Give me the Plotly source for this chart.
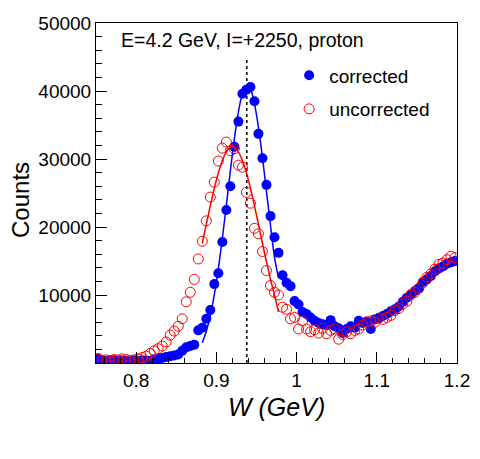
import plotly.graph_objects as go

# Bin centres (GeV)
W = [0.7525, 0.7575, 0.7625, 0.7675, 0.7725, 0.7775, 0.7825, 0.7875, 0.7925, 0.7975,
     0.8025, 0.8075, 0.8125, 0.8175, 0.8225, 0.8275, 0.8325, 0.8375, 0.8425, 0.8475,
     0.8525, 0.8575, 0.8625, 0.8675, 0.8725, 0.8775, 0.8825, 0.8875, 0.8925, 0.8975,
     0.9025, 0.9075, 0.9125, 0.9175, 0.9225, 0.9275, 0.9325, 0.9375, 0.9425, 0.9475,
     0.9525, 0.9575, 0.9625, 0.9675, 0.9725, 0.9775, 0.9825, 0.9875, 0.9925, 0.9975,
     1.0025, 1.0075, 1.0125, 1.0175, 1.0225, 1.0275, 1.0325, 1.0375, 1.0425, 1.0475,
     1.0525, 1.0575, 1.0625, 1.0675, 1.0725, 1.0775, 1.0825, 1.0875, 1.0925, 1.0975,
     1.1025, 1.1075, 1.1125, 1.1175, 1.1225, 1.1275, 1.1325, 1.1375, 1.1425, 1.1475,
     1.1525, 1.1575, 1.1625, 1.1675, 1.1725, 1.1775, 1.1825, 1.1875, 1.1925, 1.1975]

corrected = [700, 400, 300, 350, 400, 300, 350, 300, 250, 350,
             300, 400, 350, 300, 550, 600, 750, 900, 1000, 1100,
             1250, 1800, 2300, 2500, 2700, 4800, 5200, 6500, 7800, 11600,
             13200, 17800, 22500, 26000, 31800, 35500, 39600, 40200, 40600, 38500,
             33700, 30100, 26200, 21600, 18500, 16200, 12900, 11800, 11300, 9100,
             8600, 7500, 7200, 6700, 6200, 5900, 5700, 5600, 6300, 5400,
             5100, 4400, 5000, 5400, 5200, 6200, 5900, 6100, 5000, 6400,
             6600, 6900, 7200, 7600, 7900, 8300, 9000, 9600, 10100, 10600,
             11000, 11900, 12300, 12800, 13500, 13900, 14200, 14600, 14800, 15000]

uncorrected = [600, 400, 450, 350, 500, 450, 600, 500, 400, 450,
               600, 800, 1000, 1400, 1800, 2100, 2500, 3100, 4100, 4700,
               5400, 6500, 9000, 10400, 12300, 15300, 17900, 20900, 24400, 26600,
               29700, 31600, 32500, 31200, 31500, 29100, 28800, 25100, 23500, 19800,
               19000, 16400, 13600, 11400, 10400, 10000, 8200, 7900, 6500, 6700,
               5000, 6200, 5000, 4600, 4900, 4400, 5100, 4300, 4800, 5000,
               3500, 4200, 4600, 4300, 4800, 5000, 5600, 6000, 6200, 6000,
               6600, 6400, 6700, 7000, 7700, 8000, 8700, 9100, 10000, 10400,
               11000, 11800, 12600, 13100, 13800, 14500, 14700, 15200, 15700, 15500]

# Fit curves
fit_W = [0.8825, 0.8875, 0.8925, 0.8975, 0.9025, 0.9075, 0.9125, 0.9175, 0.9225, 0.9275,
         0.9325, 0.9375, 0.9425, 0.9475, 0.9525, 0.9575, 0.9625, 0.9675, 0.9725, 0.9775]
fit_corrected = [2990, 4680, 7010, 10060, 13860, 18320, 23230, 28260, 32970, 36890,
                 39600, 40770, 40260, 38140, 34650, 30200, 25250, 20250, 15580, 12500]
fit_uncorrected = [17610, 20410, 23140, 25710, 27960, 29780, 31060, 31720, 31720, 31060,
                   29780, 27960, 25710, 23140, 20410, 17610, 14890, 12320, 9990, 7500]

proton_mass = [0.938, 0.938]
mass_line_counts = [0, 45000]

x_ticks = [0.8, 0.9, 1.0, 1.1, 1.2]
x_tick_labels = ["0.8", "0.9", "1", "1.1", "1.2"]
y_ticks = [10000, 20000, 30000, 40000, 50000]
y_tick_labels = ["10000", "20000", "30000", "40000", "50000"]

FONT = "Liberation Sans, Arial, Helvetica, sans-serif"

fig = go.Figure()

fig.add_trace(go.Scatter(x=proton_mass, y=mass_line_counts, mode="lines",
                         line=dict(color="black", width=1.5, dash="dot"),
                         showlegend=False, hoverinfo="skip"))

fig.add_trace(go.Scatter(x=W, y=corrected, mode="markers", name="corrected",
                         marker=dict(color="#0000ff", size=10, symbol="circle"),
                         legendgroup="a"))
fig.add_trace(go.Scatter(x=W, y=uncorrected, mode="markers", name="uncorrected",
                         marker=dict(color="#ff0000", size=10, symbol="circle-open",
                                     line=dict(width=1)),
                         legendgroup="b"))

fig.add_trace(go.Scatter(x=fit_W, y=fit_corrected, mode="lines", line_shape="spline",
                         line=dict(color="#0000ff", width=1.5), showlegend=False))
fig.add_trace(go.Scatter(x=fit_W, y=fit_uncorrected, mode="lines", line_shape="spline",
                         line=dict(color="#ff0000", width=1.5), showlegend=False))

fig.update_layout(
    width=472, height=451,
    margin=dict(l=88, r=23, t=15, b=96),
    plot_bgcolor="white", paper_bgcolor="white",
    font=dict(family=FONT, size=19, color="black"),
    showlegend=True,
    legend=dict(x=0.535, y=0.902, xanchor="left", yanchor="top",
                bgcolor="rgba(0,0,0,0)", font=dict(size=19), tracegroupgap=6,
                itemsizing="trace"),
    xaxis=dict(range=[0.75, 1.2], tickvals=x_ticks, ticktext=x_tick_labels,
               ticks="inside", ticklen=11, tickwidth=1, tickcolor="black",
               showline=True, linecolor="black", linewidth=1, mirror=True,
               showgrid=False, zeroline=False, automargin=False,
               minor=dict(dtick=0.02, tick0=0, ticks="inside", ticklen=5.5,
                          tickcolor="black", showgrid=False),
               tickfont=dict(size=19)),
    yaxis=dict(range=[0, 50000], tickvals=y_ticks, ticktext=y_tick_labels,
               ticks="inside", ticklen=11, tickwidth=1, tickcolor="black",
               showline=True, linecolor="black", linewidth=1, mirror=True,
               showgrid=False, zeroline=False, automargin=False,
               minor=dict(dtick=2000, tick0=0, ticks="inside", ticklen=5.5,
                          tickcolor="black", showgrid=False),
               tickfont=dict(size=19)),
    annotations=[dict(text="E=4.2 GeV, I=+2250, proton", xref="paper", yref="paper",
                      x=0.063, y=0.95, xanchor="left", yanchor="middle",
                      showarrow=False, font=dict(size=19.5)),
                 dict(text="<i>W (GeV)</i>", xref="paper", yref="paper",
                      x=0.501, y=-0.129, xanchor="center", yanchor="middle",
                      showarrow=False, font=dict(size=25)),
                 dict(text="Counts", xref="paper", yref="paper", textangle=-90,
                      x=-0.211, y=0.479, xanchor="center", yanchor="middle",
                      showarrow=False, font=dict(size=24))],
)

fig.write_html("out.html")
